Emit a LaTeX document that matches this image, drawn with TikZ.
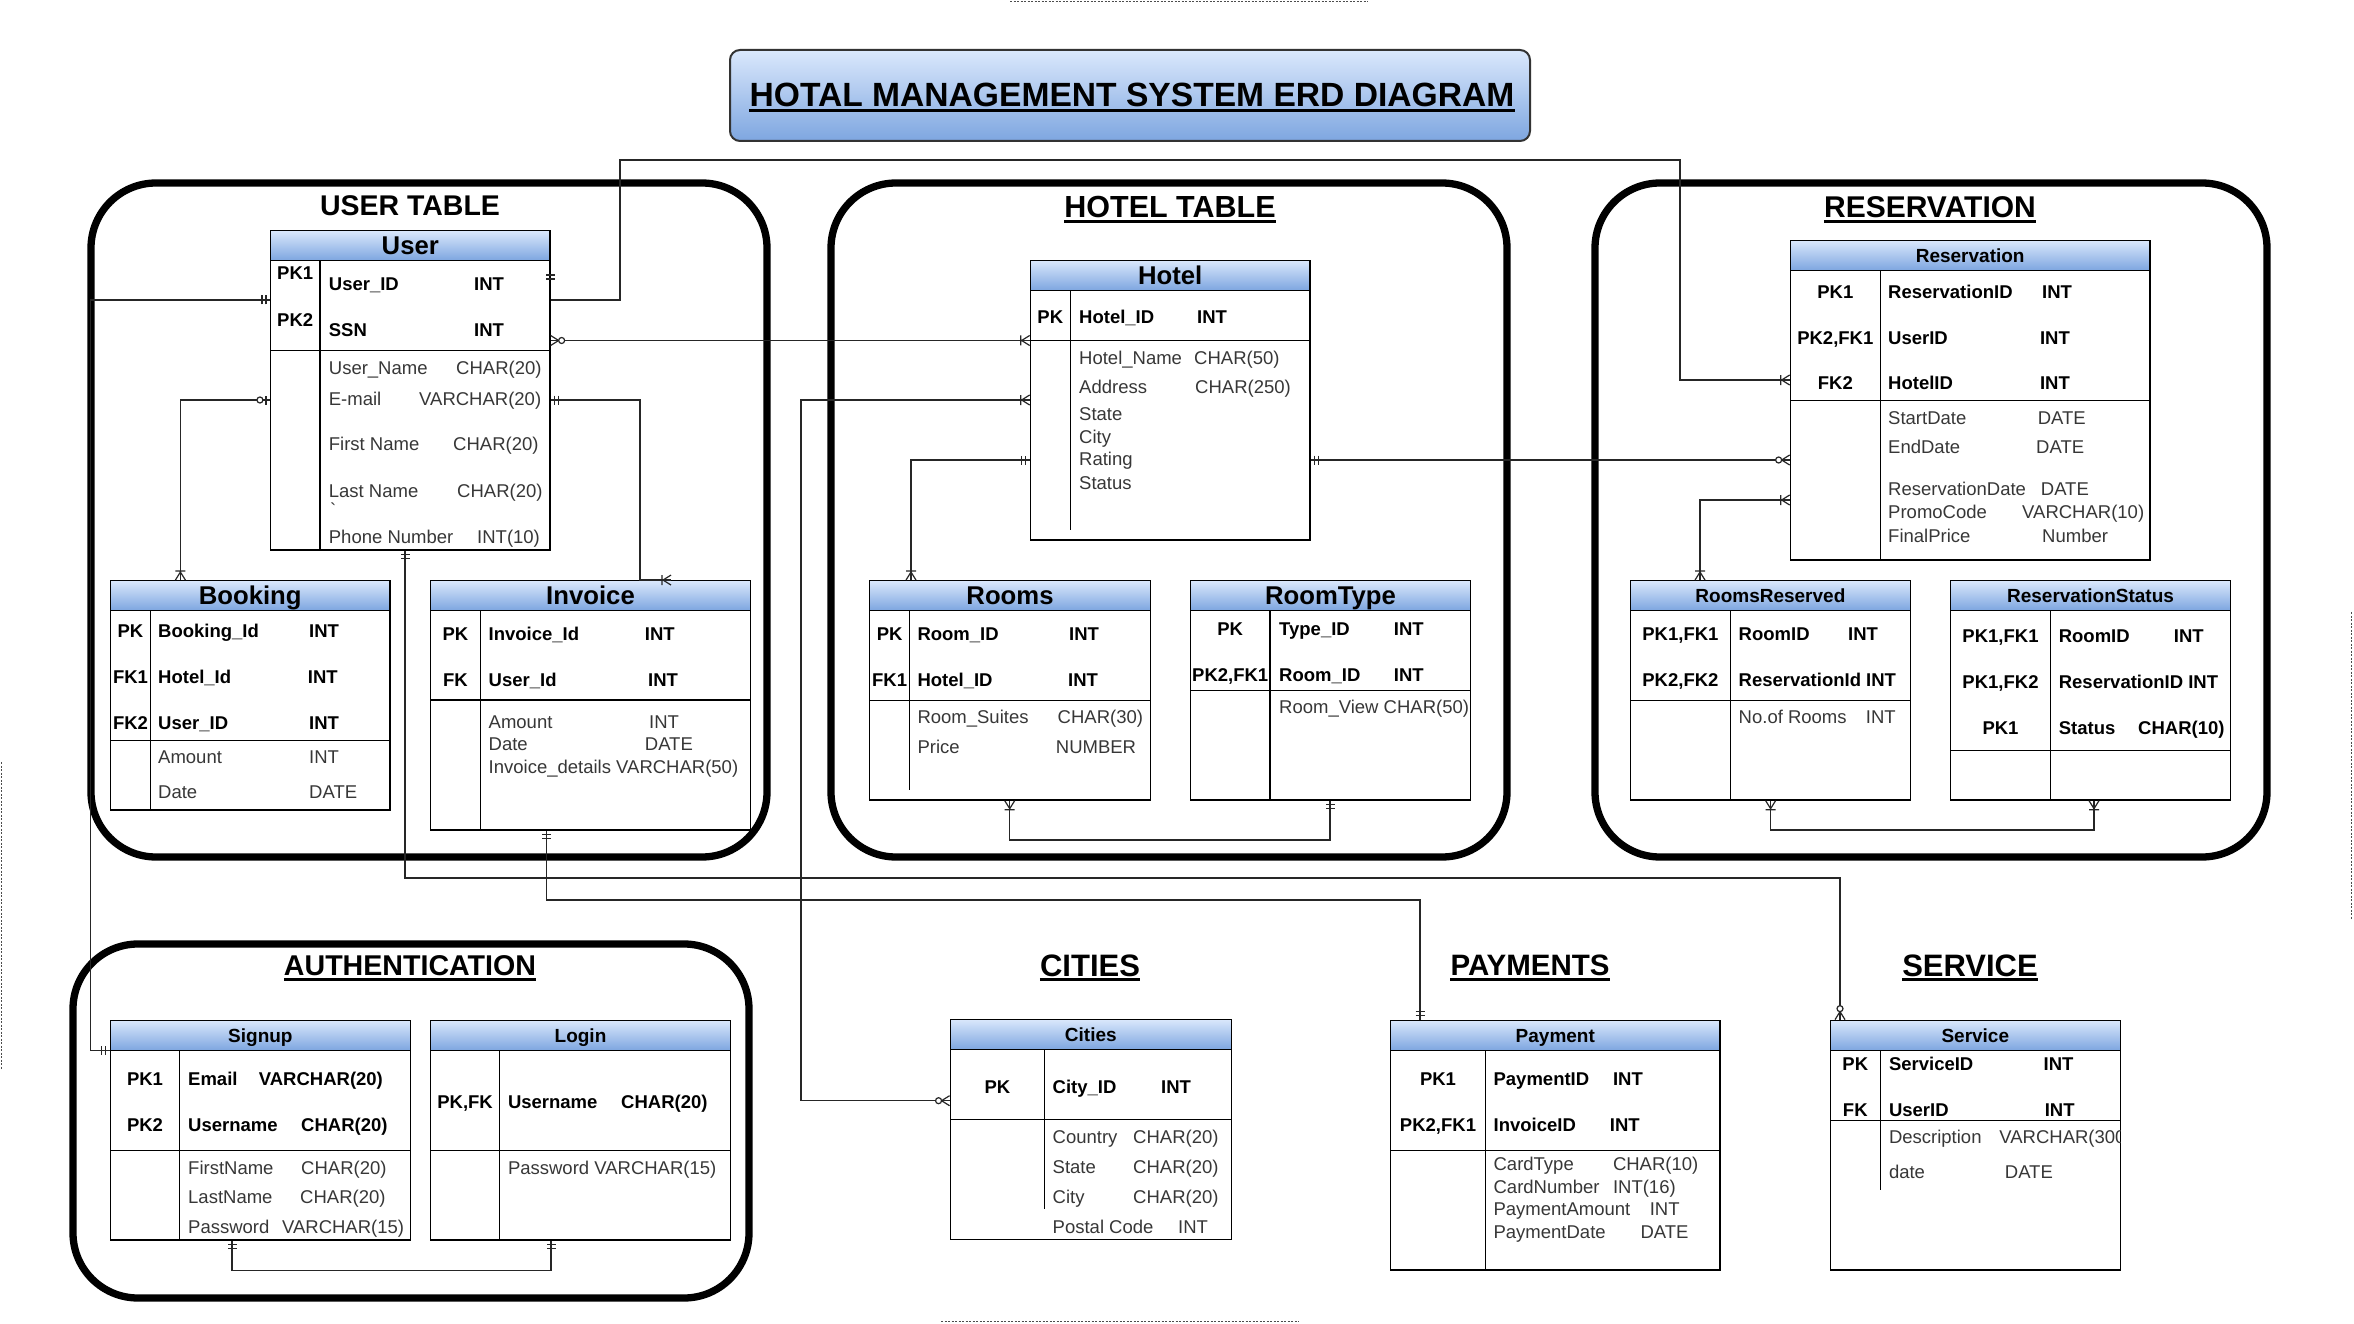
\documentclass[tikz,border=0pt]{standalone}
\usepackage{fontspec}
\setmainfont{Liberation Sans}
\usetikzlibrary{fit}
\definecolor{hdtop}{RGB}{218,232,252}
\definecolor{hdbot}{RGB}{126,166,224}
\definecolor{attrc}{RGB}{55,55,55}
\newcommand\FS[1]{\fontsize{#1}{#1}\selectfont}
\tikzset{
  grp/.style={line width=7.3pt, rounded corners=65pt, draw=black},
  tline/.style={line width=1.3pt, draw=black},
  conn/.style={line width=1.2pt, draw=black!85},
  edgeline/.style={line width=1pt, draw=black!70, dash pattern=on 2pt off 1.5pt},
  kt/.style={font=\FS{18.5}\bfseries, anchor=base west, inner sep=0pt, yshift=-6.6pt},
  kc/.style={kt, anchor=base},
  av/.style={font=\FS{18.5}, text=attrc, anchor=base west, inner sep=0pt, yshift=-6.6pt},
  hb/.style={font=\FS{25.7}\bfseries, anchor=base, inner sep=0pt, yshift=-9.2pt},
  hs/.style={font=\FS{19}\bfseries, anchor=base, inner sep=0pt, yshift=-6.8pt},
  sect/.style={font=\FS{#1}\bfseries, anchor=base, inner sep=0pt, yshift={-0.358*#1pt}},
  mone/.pic={\draw[conn] (4,-4.5) -- (4,4.5) (8,-4.5) -- (8,4.5);},
  mmany/.pic={\draw[conn] (0,-5) -- (8,0) -- (0,5) (9,-5) -- (9,5);},
  mzmany/.pic={\draw[conn] (0,-5) -- (8,0) -- (0,5); \draw[conn, fill=white] (11,0) circle (3pt);},
  mzone/.pic={\draw[conn] (4,-4.5) -- (4,4.5); \draw[conn, fill=white] (10,0) circle (3pt);},
}
% name, x1, y1, x2, y2, header bottom, key bottom, divider x, divider end
\newcommand\ErdTbl[9]{%
  \shade[top color=hdtop, bottom color=hdbot] (#2,#3) rectangle (#4,#6);
  \draw[tline] (#2,#6) -- (#4,#6) (#2,#7) -- (#4,#7) (#8,#6) -- (#8,#9);
  \coordinate (#1-nw) at (#2,#3);
  \coordinate (#1-se) at (#4,#5);
  \node[tline, fit=(#1-nw)(#1-se), inner sep=0pt] (#1) {};
}
\newcommand\ULine[1]{\draw[line width=3pt] ([yshift=-3.8pt]#1.base west) -- ([yshift=-3.8pt]#1.base east);}
\begin{document}
\begin{tikzpicture}[x=1pt,y=-1pt]
\path[use as bounding box, fill=white] (0,0) rectangle (2354,1324);

% page edge marks
\draw[edgeline] (1010,1.5) -- (1368,1.5);
\draw[edgeline] (1.5,762) -- (1.5,1070);
\draw[edgeline] (2351,612) -- (2351,920);
\draw[edgeline] (941,1321) -- (1299,1321);

% title
\node[draw=black!80, line width=2pt, rounded corners=10pt, top color=hdtop, bottom color=hdbot,
      minimum width=800pt, minimum height=91pt, inner sep=0pt] (titlebox) at (1130,95.5) {};
\node[sect=33.6] (titletext) at (1132,94) {HOTAL MANAGEMENT SYSTEM ERD DIAGRAM};
\draw[line width=3.2pt] ([yshift=-4.5pt]titletext.base west) -- ([yshift=-4.5pt]titletext.base east);

% groups
\draw[grp] (91,183) rectangle (767,857);
\draw[grp] (831,183) rectangle (1507,857);
\draw[grp] (1595,183) rectangle (2267,857);
\draw[grp] (73,944) rectangle (749,1298);

% section titles
\node[sect=28.5] (tUser) at (410,205) {USER TABLE};
\node[sect=30.5] (tHotel) at (1170,207) {HOTEL TABLE}; \ULine{tHotel}
\node[sect=30] (tRes) at (1930,207) {RESERVATION}; \ULine{tRes}
\node[sect=28.6] (tAuth) at (410,965) {AUTHENTICATION}; \ULine{tAuth}
\node[sect=31] (tCities) at (1090,965) {CITIES}; \ULine{tCities}
\node[sect=29.5] (tPay) at (1530,965) {PAYMENTS}; \ULine{tPay}
\node[sect=31] (tServ) at (1970,965) {SERVICE}; \ULine{tServ}

% tables
\ErdTbl{user}{270.6}{230.7}{550}{550}{260.3}{350.3}{320}{550}
\ErdTbl{booking}{110.4}{580.7}{390}{810}{610.3}{740.7}{150.5}{810}
\ErdTbl{invoice}{430.4}{580.7}{750.5}{830}{610.3}{700}{480.4}{830}
\ErdTbl{hotel}{1030.3}{260.3}{1310}{540}{290.3}{340.3}{1070.4}{530}
\ErdTbl{rooms}{869.6}{580.7}{1150.4}{800}{610.3}{700.3}{909.7}{790}
\ErdTbl{roomtype}{1190.5}{580.7}{1470.4}{800}{610.3}{690.7}{1270}{800}
\ErdTbl{resv}{1790.3}{240.3}{2150}{560}{270.3}{400.3}{1880.4}{560}
\ErdTbl{roomsres}{1630.4}{580.7}{1910.4}{800}{610.3}{700.3}{1730.4}{800}
\ErdTbl{resstat}{1950.5}{580.7}{2230.4}{800}{610.3}{750.7}{2050.5}{800}
\ErdTbl{signup}{110.4}{1020.3}{410.4}{1240}{1050.3}{1150.3}{179.6}{1240}
\ErdTbl{login}{430.5}{1020.3}{730.5}{1240}{1050.3}{1150.3}{499.7}{1240}
\ErdTbl{cities}{950.2}{1019.3}{1231.3}{1239.3}{1049.3}{1119.3}{1044.5}{1209.3}
\ErdTbl{payment}{1390.5}{1020.3}{1720}{1270}{1050.3}{1150.3}{1485.5}{1270}
\ErdTbl{service}{1830.4}{1020.3}{2120.2}{1270}{1050.3}{1120.7}{1880.2}{1190}

% User
\node[hb] (uH) at (410.3,245.5) {User};
\node[kt] (u1) at (277,273) {PK1};
\node[kt] (u2) at (277,320) {PK2};
\node[kt] (u3) at (328.7,284) {User\_ID};
\node[kt] (u4) at (474,284) {INT};
\node[kt] (u5) at (328.7,330) {SSN};
\node[kt] (u6) at (474,330) {INT};
\node[av] (u7) at (328.7,367.7) {User\_Name};
\node[av] (u8) at (456,367.7) {CHAR(20)};
\node[av] (u9) at (328.7,398.7) {E-mail};
\node[av] (u10) at (419,398.7) {VARCHAR(20)};
\node[av] (u11) at (328.7,444) {First Name};
\node[av] (u12) at (453,444) {CHAR(20)};
\node[av] (u13) at (328.7,490.7) {Last Name};
\node[av] (u14) at (457,490.7) {CHAR(20)};
\node[av] (u15) at (330,510) {\textasciigrave};
\node[av] (u16) at (328.7,536.7) {Phone Number};
\node[av] (u17) at (477,536.7) {INT(10)};

% Booking
\node[hb] (bH) at (250.2,595.5) {Booking};
\node[kc] (b1) at (130.5,631) {PK};
\node[kc] (b2) at (130.5,677.3) {FK1};
\node[kc] (b3) at (130.5,723.3) {FK2};
\node[kt] (b4) at (158,631) {Booking\_Id};
\node[kt] (b5) at (309,631) {INT};
\node[kt] (b6) at (158,677.3) {Hotel\_Id};
\node[kt] (b7) at (307.7,677.3) {INT};
\node[kt] (b8) at (158,723.3) {User\_ID};
\node[kt] (b9) at (309,723.3) {INT};
\node[av] (b10) at (158,757.3) {Amount};
\node[av] (b11) at (309,757.3) {INT};
\node[av] (b12) at (158,792.3) {Date};
\node[av] (b13) at (309,792.3) {DATE};

% Invoice
\node[hb] (iH) at (590.5,595.5) {Invoice};
\node[kc] (i1) at (455.4,634) {PK};
\node[kc] (i2) at (455.4,680) {FK};
\node[kt] (i3) at (488.5,634) {Invoice\_Id};
\node[kt] (i4) at (644.7,634) {INT};
\node[kt] (i5) at (488.5,680) {User\_Id};
\node[kt] (i6) at (648,680) {INT};
\node[av] (i7) at (488.5,721.7) {Amount};
\node[av] (i8) at (649,721.7) {INT};
\node[av] (i9) at (488.5,744.3) {Date};
\node[av] (i10) at (644.7,744.3) {DATE};
\node[av] (i11) at (488.5,767.3) {Invoice\_details VARCHAR(50)};

% Hotel
\node[hb] (hH) at (1170.2,275.3) {Hotel};
\node[kc] (h1) at (1050.3,317.3) {PK};
\node[kt] (h2) at (1079,317.3) {Hotel\_ID};
\node[kt] (h3) at (1197,317.3) {INT};
\node[av] (h4) at (1079,357.7) {Hotel\_Name};
\node[av] (h5) at (1194,357.7) {CHAR(50)};
\node[av] (h6) at (1079,387.3) {Address};
\node[av] (h7) at (1195,387.3) {CHAR(250)};
\node[av] (h8) at (1079,413.7) {State};
\node[av] (h9) at (1079,436.7) {City};
\node[av] (h10) at (1079,459.3) {Rating};
\node[av] (h11) at (1079,482.7) {Status};

% Rooms
\node[hb] (rH) at (1010,595.5) {Rooms};
\node[kc] (r1) at (889.6,634) {PK};
\node[kc] (r2) at (889.6,680) {FK1};
\node[kt] (r3) at (917.3,634) {Room\_ID};
\node[kt] (r4) at (1069,634) {INT};
\node[kt] (r5) at (917.3,680) {Hotel\_ID};
\node[kt] (r6) at (1068,680) {INT};
\node[av] (r7) at (917.3,717.3) {Room\_Suites};
\node[av] (r8) at (1057.5,717.3) {CHAR(30)};
\node[av] (r9) at (917.3,747.3) {Price};
\node[av] (r10) at (1055.7,747.3) {NUMBER};

% RoomType
\node[hb] (tH) at (1330.5,595.5) {RoomType};
\node[kc] (t1) at (1230.2,629.3) {PK};
\node[kc] (t2) at (1230.2,675) {PK2,FK1};
\node[kt] (t3) at (1279,629.3) {Type\_ID};
\node[kt] (t4) at (1393.7,629.3) {INT};
\node[kt] (t5) at (1279,675) {Room\_ID};
\node[kt] (t6) at (1393.7,675) {INT};
\begin{scope}
\clip (roomtype.north west) rectangle (roomtype.south east);
\node[av] (t7) at (1279,707.3) {Room\_View CHAR(50)};
\end{scope}

% Reservation
\node[hs] (vH) at (1970.2,255.3) {Reservation};
\node[kc] (v1) at (1835.3,291.7) {PK1};
\node[kc] (v2) at (1835.3,337.7) {PK2,FK1};
\node[kc] (v3) at (1835.3,383.3) {FK2};
\node[kt] (v4) at (1888,291.7) {ReservationID};
\node[kt] (v5) at (2042,291.7) {INT};
\node[kt] (v6) at (1888,337.7) {UserID};
\node[kt] (v7) at (2039.8,337.7) {INT};
\node[kt] (v8) at (1888,383.3) {HotelID};
\node[kt] (v9) at (2039.8,383.3) {INT};
\node[av] (v10) at (1888,417.7) {StartDate};
\node[av] (v11) at (2037.6,417.7) {DATE};
\node[av] (v12) at (1888,446.7) {EndDate};
\node[av] (v13) at (2036,446.7) {DATE};
\node[av] (v14) at (1888,489.3) {ReservationDate};
\node[av] (v15) at (2040.7,489.3) {DATE};
\node[av] (v16) at (1888,512.3) {PromoCode};
\node[av] (v17) at (2022,512.3) {VARCHAR(10)};
\node[av] (v18) at (1888,535.7) {FinalPrice};
\node[av] (v19) at (2042,535.7) {Number};

% RoomsReserved
\node[hs] (wH) at (1770.4,595.5) {RoomsReserved};
\node[kc] (w1) at (1680.4,634) {PK1,FK1};
\node[kc] (w2) at (1680.4,680) {PK2,FK2};
\node[kt] (w3) at (1738.5,634) {RoomID};
\node[kt] (w4) at (1848,634) {INT};
\node[kt] (w5) at (1738.5,680) {ReservationId INT};
\node[av] (w6) at (1738.5,717.3) {No.of Rooms};
\node[av] (w7) at (1865.7,717.3) {INT};

% ReservationStatus
\node[hs] (sH) at (2090.5,595.5) {ReservationStatus};
\node[kc] (s1) at (2000.5,636) {PK1,FK1};
\node[kc] (s2) at (2000.5,682) {PK1,FK2};
\node[kc] (s3) at (2000.5,728.3) {PK1};
\node[kt] (s4) at (2058.6,636) {RoomID};
\node[kt] (s5) at (2173.7,636) {INT};
\node[kt] (s6) at (2058.6,682) {ReservationID INT};
\node[kt] (s7) at (2058.6,728.3) {Status};
\node[kt] (s8) at (2138,728.3) {CHAR(10)};

% Signup
\node[hs] (gH) at (260.4,1035.3) {Signup};
\node[kc] (g1) at (145,1079.3) {PK1};
\node[kc] (g2) at (145,1125.3) {PK2};
\node[kt] (g3) at (188,1079.3) {Email};
\node[kt] (g4) at (258.7,1079.3) {VARCHAR(20)};
\node[kt] (g5) at (188,1125.3) {Username};
\node[kt] (g6) at (301,1125.3) {CHAR(20)};
\node[av] (g7) at (188,1167.7) {FirstName};
\node[av] (g8) at (301,1167.7) {CHAR(20)};
\node[av] (g9) at (188,1197.3) {LastName};
\node[av] (g10) at (300,1197.3) {CHAR(20)};
\node[av] (g11) at (188,1226.7) {Password};
\node[av] (g12) at (281.9,1226.7) {VARCHAR(15)};

% Login
\node[hs] (lH) at (580.5,1035.3) {Login};
\node[kc] (l1) at (465.1,1102.3) {PK,FK};
\node[kt] (l2) at (507.8,1102.3) {Username};
\node[kt] (l3) at (621,1102.3) {CHAR(20)};
\node[av] (l4) at (507.8,1167.7) {Password VARCHAR(15)};

% Cities
\node[hs] (cH) at (1090.8,1034.3) {Cities};
\node[kc] (c1) at (997.4,1086.7) {PK};
\node[kt] (c2) at (1052.5,1086.7) {City\_ID};
\node[kt] (c3) at (1161,1086.7) {INT};
\node[av] (c4) at (1052.5,1136.7) {Country};
\node[av] (c5) at (1133,1136.7) {CHAR(20)};
\node[av] (c6) at (1052.5,1166.7) {State};
\node[av] (c7) at (1133,1166.7) {CHAR(20)};
\node[av] (c8) at (1052.5,1196.7) {City};
\node[av] (c9) at (1133,1196.7) {CHAR(20)};
\node[av] (c10) at (1052.5,1226.7) {Postal Code};
\node[av] (c11) at (1178,1226.7) {INT};

% Payment
\node[hs] (pH) at (1555.3,1035.3) {Payment};
\node[kc] (p1) at (1438,1079) {PK1};
\node[kc] (p2) at (1438,1125) {PK2,FK1};
\node[kt] (p3) at (1493.4,1079) {PaymentID};
\node[kt] (p4) at (1612.8,1079) {INT};
\node[kt] (p5) at (1493.4,1125) {InvoiceID};
\node[kt] (p6) at (1609.7,1125) {INT};
\node[av] (p7) at (1493.4,1164) {CardType};
\node[av] (p8) at (1612.8,1164) {CHAR(10)};
\node[av] (p9) at (1493.4,1186.7) {CardNumber};
\node[av] (p10) at (1612.8,1186.7) {INT(16)};
\node[av] (p11) at (1493.4,1209.3) {PaymentAmount};
\node[av] (p12) at (1649.6,1209.3) {INT};
\node[av] (p13) at (1493.4,1231.7) {PaymentDate};
\node[av] (p14) at (1640.4,1231.7) {DATE};

% Service
\node[hs] (eH) at (1975.3,1035.3) {Service};
\node[kc] (e1) at (1855.3,1064.3) {PK};
\node[kc] (e2) at (1855.3,1110) {FK};
\node[kt] (e3) at (1888.8,1064.3) {ServiceID};
\node[kt] (e4) at (2043.4,1064.3) {INT};
\node[kt] (e5) at (1888.8,1110) {UserID};
\node[kt] (e6) at (2044.6,1110) {INT};
\begin{scope}
\clip (service.north west) rectangle (service.south east);
\node[av] (e7) at (1888.8,1137.3) {Description};
\node[av] (e8) at (1999.2,1137.3) {VARCHAR(300)};
\end{scope}
\node[av] (e9) at (1888.8,1172.3) {date};
\node[av] (e10) at (2004.7,1172.3) {DATE};

% connectors
\draw[conn] (user.east |- 0,300) -- (620,300) -- (620,160) -- (1680,160) -- (1680,380) -- (resv.west |- 0,380);
\draw[conn] (user.east |- 0,340.5) -- (hotel.west |- 0,340.5);
\draw[conn] (user.west |- 0,300) -- (90.5,300) -- (90.5,1050.3) -- (signup.west |- 0,1050.3);
\draw[conn] (user.west |- 0,400) -- (180.4,400) -- (180.4,0 |- booking.north);
\draw[conn] (user.east |- 0,400) -- (640,400) -- (640,0 |- invoice.north) -- (671,0 |- invoice.north);
\draw[conn] (405,0 |- user.south) -- (405,878) -- (1840,878) -- (1840,0 |- service.north);
\draw[conn] (546.5,0 |- invoice.south) -- (546.5,900) -- (1420,900) -- (1420,0 |- payment.north);
\draw[conn] (hotel.west |- 0,400) -- (801,400) -- (801,1100.7) -- (cities.west |- 0,1100.7);
\draw[conn] (hotel.west |- 0,460) -- (911,460) -- (911,0 |- rooms.north);
\draw[conn] (hotel.east |- 0,460) -- (resv.west |- 0,460);
\draw[conn] (resv.west |- 0,500) -- (1700,500) -- (1700,0 |- roomsres.north);
\draw[conn] (1009.7,0 |- rooms.south) -- (1009.7,840) -- (1330,840) -- (1330,0 |- roomtype.south);
\draw[conn] (1770.6,0 |- roomsres.south) -- (1770.6,830) -- (2094,830) -- (2094,0 |- resstat.south);
\draw[conn] (232,0 |- signup.south) -- (232,1270.7) -- (551,1270.7) -- (551,0 |- login.south);

% markers
\pic[rotate=90] at (user.east |- 0,283) {mone};
\pic[rotate=180] at (resv.west |- 0,380) {mmany};
\pic at (user.east |- 0,340.5) {mzmany};
\pic[rotate=180] at (hotel.west |- 0,340.5) {mmany};
\pic[rotate=180] at (user.west |- 0,300) {mone};
\pic[rotate=180] at (signup.west |- 0,1050.3) {mone};
\pic[rotate=180] at (user.west |- 0,400) {mzone};
\pic[rotate=90] at (180.4,0 |- booking.north) {mmany};
\pic at (user.east |- 0,400) {mone};
\pic[rotate=180] at (671,0 |- invoice.north) {mmany};
\pic[rotate=270] at (405,0 |- user.south) {mone};
\pic[rotate=90] at (1840,0 |- service.north) {mzmany};
\pic[rotate=270] at (546.5,0 |- invoice.south) {mone};
\pic[rotate=90] at (1420,0 |- payment.north) {mone};
\pic[rotate=180] at (hotel.west |- 0,400) {mmany};
\pic[rotate=180] at (cities.west |- 0,1100.7) {mzmany};
\pic[rotate=180] at (hotel.west |- 0,460) {mone};
\pic[rotate=90] at (911,0 |- rooms.north) {mmany};
\pic at (hotel.east |- 0,460) {mone};
\pic[rotate=180] at (resv.west |- 0,460) {mzmany};
\pic[rotate=180] at (resv.west |- 0,500) {mmany};
\pic[rotate=90] at (1700,0 |- roomsres.north) {mmany};
\pic[rotate=270] at (1009.7,0 |- rooms.south) {mmany};
\pic[rotate=270] at (1330,0 |- roomtype.south) {mone};
\pic[rotate=270] at (1770.6,0 |- roomsres.south) {mmany};
\pic[rotate=270] at (2094,0 |- resstat.south) {mmany};
\pic[rotate=270] at (232,0 |- signup.south) {mone};
\pic[rotate=270] at (551,0 |- login.south) {mone};
\end{tikzpicture}
\end{document}
